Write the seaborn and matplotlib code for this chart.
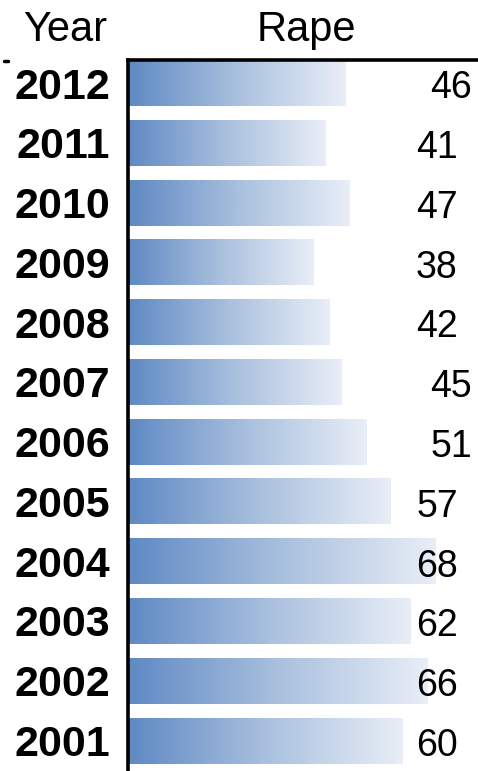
import matplotlib
matplotlib.use("Agg")
import matplotlib.pyplot as plt
import numpy as np
import pandas as pd
import seaborn as sns
from matplotlib.colors import LinearSegmentedColormap

years = ["2012", "2011", "2010", "2009", "2008", "2007",
         "2006", "2005", "2004", "2003", "2002", "2001"]
rape = [46, 41, 47, 38, 42, 45, 51, 57, 68, 62, 66, 60]

# value labels sit in a column on the right, a few are pushed a bit further out
label_shift = [3.5, 0, 0, 0, 0, 3.5, 3.5, 0, 0, 0, 0, 0]

df = pd.DataFrame({"year": years, "rape": rape})

sns.set_theme(style="white")
plt.rcParams["font.family"] = ["Liberation Sans", "DejaVu Sans"]
plt.rcParams["text.color"] = "black"

fig = plt.figure(figsize=(4.78, 7.71), dpi=100)
ax = fig.add_axes([128 / 478, 0, 350 / 478, 711 / 771])

sns.barplot(data=df, x="rape", y="year", orient="h", width=0.77,
            color="white", ax=ax)

# axis does not start at zero: bars grow from the axis minimum
xmin, xmax = -7.5, 78.5
ax.set_xlim(xmin, xmax)

# fill every bar with a blue-to-white gradient
cmap = LinearSegmentedColormap.from_list("fade", ["#5f89c4", "#a9c0de", "#e9eef7"])
grad = np.linspace(0, 1, 256).reshape(1, -1)
for bar in ax.patches:
    x0, y0 = bar.get_x(), bar.get_y()
    w, h = bar.get_width(), bar.get_height()
    bar.set_x(xmin)
    bar.set_width(x0 + w - xmin)
    bar.set_facecolor("none")
    bar.set_edgecolor("none")
    im = ax.imshow(grad, cmap=cmap, aspect="auto", interpolation="bicubic",
                   extent=[xmin, x0 + w, y0 + h, y0], zorder=2)
    im.set_clip_path(bar)

# value labels
for i, v in enumerate(rape):
    ax.text(68.4 + label_shift[i], i + 0.09, str(v), ha="center", va="center",
            fontsize=27, color="black", zorder=3)

ax.set_xlim(xmin, xmax)
ax.set_ylim(11.51, -0.385)

ax.set_xlabel("")
ax.set_ylabel("")
ax.set_xticks([])
ax.tick_params(axis="y", length=0, pad=13)
for lab in ax.get_yticklabels():
    lab.set_fontsize(31)
    lab.set_fontweight("bold")
    lab.set_color("black")

sns.despine(ax=ax, right=True, bottom=True, top=False, left=False)
for side in ["left", "top"]:
    ax.spines[side].set_color("black")
    ax.spines[side].set_linewidth(2.6)

# headers
fig.text(65 / 478, 1 - 30 / 771, "Year", ha="center", va="center",
         fontsize=30, color="black")
fig.text(306 / 478, 1 - 30 / 771, "Rape", ha="center", va="center",
         fontsize=30, color="black")

# small stray tick at the top left
fig.add_artist(plt.Line2D([4 / 478, 8 / 478], [1 - 61 / 771, 1 - 61 / 771],
                          color="black", lw=2.5))

fig.savefig("out.png", dpi=100)
